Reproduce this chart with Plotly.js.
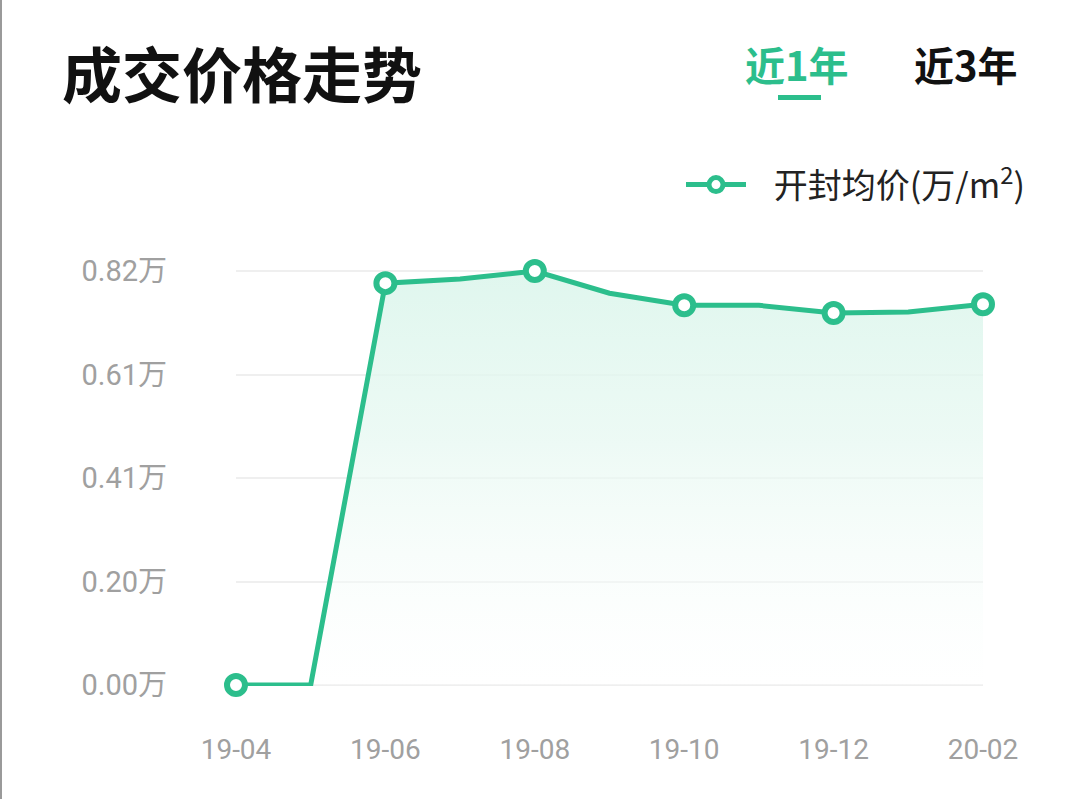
<!DOCTYPE html>
<html>
<head>
<meta charset="utf-8">
<script src="https://cdn.plot.ly/plotly-3.0.1.min.js"></script>
<style>
  html, body { margin: 0; padding: 0; background: #fff; }
  #plot { width: 1080px; height: 799px; }
</style>
</head>
<body>
<div id="plot"></div>
<script>
const months = ['19-04', '19-05', '19-06', '19-07', '19-08', '19-09', '19-10', '19-11', '19-12', '20-01', '20-02'];
const avgPrice = [0, 0, 0.796, 0.804, 0.82, 0.776, 0.752, 0.752, 0.737, 0.739, 0.754];
const markedMonths = ['19-04', '19-06', '19-08', '19-10', '19-12', '20-02'];
const yTickVals = [0, 0.205, 0.41, 0.615, 0.82];
const yTickText = ['0.00万', '0.20万', '0.41万', '0.61万', '0.82万'];
const seriesName = '\u00a0\u00a0\u00a0开封均价(万/m<sup>2</sup>)';

const green = 'rgb(44,190,140)';

// plot area in pixels: x 236..983, y 271..685
const L = 236, R = 97, T = 270, B = 113;
const W = 1080 - L - R, H = 799 - T - B;
const px = (x) => (x - L) / W;
const py = (y) => (799 - B - y) / H;

const markedPrice = markedMonths.map((m) => avgPrice[months.indexOf(m)]);

const lineTrace = {
  x: months,
  y: avgPrice,
  type: 'scatter',
  mode: 'lines',
  line: { color: green, width: 5 },
  fill: 'tozeroy',
  fillgradient: {
    type: 'vertical',
    colorscale: [[0, 'rgba(255,255,255,0.3)'], [0.6, 'rgba(230,248,241,0.75)'], [1, 'rgba(218,245,235,0.85)']],
  },
  showlegend: false,
  cliponaxis: false,
  hoverinfo: 'skip',
};

const markerTrace = {
  x: markedMonths,
  y: markedPrice,
  type: 'scatter',
  mode: 'markers',
  marker: { symbol: 'circle', size: 18, color: '#fff', line: { color: green, width: 6 } },
  showlegend: false,
  cliponaxis: false,
};

const legendTrace = {
  x: [null],
  y: [null],
  type: 'scatter',
  mode: 'lines+markers',
  name: seriesName,
  line: { color: green, width: 5 },
  marker: { symbol: 'circle', size: 14, color: '#fff', line: { color: green, width: 5 } },
};

const layout = {
  width: 1080,
  height: 799,
  margin: { l: L, r: R, t: T, b: B },
  paper_bgcolor: '#fff',
  plot_bgcolor: '#fff',
  font: { family: 'Roboto, "Noto Sans CJK SC", sans-serif', color: '#a0a0a0' },
  showlegend: true,
  legend: {
    x: px(1030), xanchor: 'right',
    y: py(185), yanchor: 'middle',
    font: { size: 34, color: '#222', family: '"Noto Sans CJK SC", sans-serif' },
    bgcolor: 'rgba(0,0,0,0)',
    itemwidth: 60,
  },
  xaxis: {
    type: 'category',
    categoryorder: 'array',
    categoryarray: months,
    range: [0, months.length - 1],
    tickvals: markedMonths,
    ticks: '',
    showgrid: false,
    zeroline: false,
    showline: false,
    ticklabelstandoff: 44,
    tickfont: { size: 28, color: '#a0a0a0' },
    fixedrange: true,
  },
  yaxis: {
    range: [-0.002, 0.822],
    tickvals: yTickVals,
    ticktext: yTickText,
    ticks: '',
    showgrid: true,
    gridcolor: '#efefef',
    gridwidth: 2,
    zeroline: false,
    showline: false,
    ticklabelstandoff: 68,
    tickfont: { size: 29, color: '#a0a0a0' },
    fixedrange: true,
  },
  annotations: [
    {
      text: '<b>成交价格走势</b>',
      xref: 'paper', yref: 'paper',
      x: px(60), y: py(72), xanchor: 'left', yanchor: 'middle',
      showarrow: false,
      font: { size: 60, color: '#111', family: '"Noto Sans CJK SC", sans-serif' },
    },
    {
      text: '<b>近1年</b>',
      xref: 'paper', yref: 'paper',
      x: px(797), y: py(64), xanchor: 'center', yanchor: 'middle',
      showarrow: false,
      font: { size: 40, color: green, family: '"Noto Sans CJK SC", sans-serif' },
    },
    {
      text: '<b>近3年</b>',
      xref: 'paper', yref: 'paper',
      x: px(966), y: py(64), xanchor: 'center', yanchor: 'middle',
      showarrow: false,
      font: { size: 40, color: '#111', family: '"Noto Sans CJK SC", sans-serif' },
    },
  ],
  shapes: [
    {
      type: 'rect', xref: 'paper', yref: 'paper',
      x0: px(778), x1: px(821), y0: py(100), y1: py(95),
      fillcolor: green, line: { width: 0 },
    },
    {
      type: 'line', xref: 'paper', yref: 'paper',
      x0: px(1), x1: px(1), y0: py(799), y1: py(0),
      line: { color: '#9a9a9a', width: 2 },
    },
  ],
};

Plotly.newPlot('plot', [lineTrace, markerTrace, legendTrace], layout, { displayModeBar: false, staticPlot: true });
</script>
</body>
</html>
